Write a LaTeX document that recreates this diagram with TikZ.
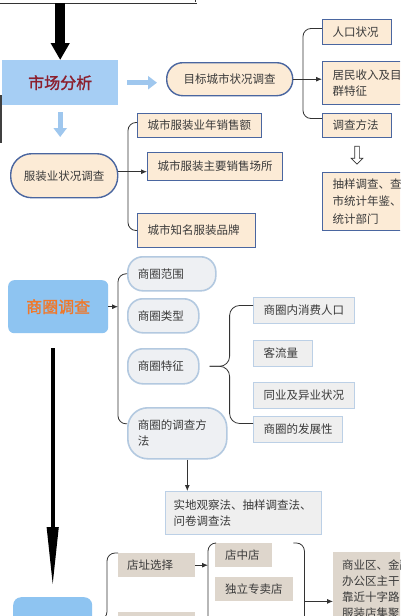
\documentclass[tikz,border=0pt]{standalone}
\usepackage{fontspec}
\newfontfamily\cjk{Noto Sans CJK SC}
\newfontfamily\cjkbold[FakeBold=1.6]{Noto Sans CJK SC}
\usetikzlibrary{arrows.meta,shapes.arrows}

\definecolor{mkblue}{HTML}{A6CEF4}
\definecolor{sqblue}{HTML}{8EC4F1}
\definecolor{mkred}{HTML}{8C1F2E}
\definecolor{sqorange}{HTML}{F0782A}
\definecolor{peach}{HTML}{FCEBD6}
\definecolor{navy}{HTML}{4A66A0}
\definecolor{pillgray}{HTML}{EEF0F3}
\definecolor{pillline}{HTML}{B3C9E0}
\definecolor{boxgray}{HTML}{EFEFEF}
\definecolor{boxline}{HTML}{BCD0E6}
\definecolor{tan}{HTML}{DED6CC}
\definecolor{arrowblue}{HTML}{9FC7EE}
\definecolor{linegray}{HTML}{333333}
\definecolor{txtgray}{HTML}{3A3A3A}

\tikzset{
  boxbase/.style={anchor=north west, inner xsep=10pt, inner ysep=0pt, align=left,
    text=txtgray, font=\cjk\fontsize{11.5}{16.5}\selectfont},
  peachbox/.style={boxbase, draw=navy, line width=1pt, fill=peach},
  peachpill/.style={boxbase, draw=navy, line width=1.4pt, fill=peach, rounded corners=16pt, align=center},
  graypill/.style={boxbase, draw=pillline, line width=1.6pt, fill=pillgray, rounded corners=15pt},
  graybox/.style={boxbase, draw=boxline, line width=1pt, fill=boxgray},
  tanbox/.style={boxbase, fill=tan},
  titlebox/.style={anchor=north west, inner sep=0pt, align=center, font=\cjkbold\fontsize{16}{16}\selectfont},
  bracket/.style={draw=linegray, line width=0.8pt, rounded corners=8pt},
  smallarrow/.style={draw=linegray, line width=0.8pt, -{Latex[length=6pt,width=5pt]}},
  lightarrow/.style={draw=arrowblue, line width=5pt, -{Triangle[length=9pt,width=13pt]}},
}

\begin{document}
\begin{tikzpicture}[x=1pt,y=-1pt]
\useasboundingbox (0,0) rectangle (400,616);
\fill[white] (0,0) rectangle (400,616);
\clip (0,0) rectangle (400,616);

% market analysis
\node[draw=black!80, double, double distance=1pt, line width=0.5pt, minimum width=201pt,
  minimum height=24pt, anchor=south west, inner sep=0pt] (topbox) at (-5,3) {};
\node[titlebox, fill=mkblue, text=mkred, minimum width=116pt, minimum height=45pt] (market) at (2,60) {市场分析};
\node[peachpill, text width=106pt, minimum height=33pt] (city) at (166,62) {目标城市状况调查};

\node[peachbox, text width=49pt, minimum height=25pt] (renkou) at (322,19) {人口状况};
\node[peachbox, text width=80pt, minimum height=43pt] (jumin) at (322,61) {居民收入及目\\群特征};
\node[peachbox, text width=49pt, minimum height=24pt] (method) at (322,113) {调查方法};
\node[single arrow, draw=linegray, line width=0.7pt, fill=white, shape border rotate=270,
  minimum height=18pt, inner sep=2pt, single arrow head extend=3.5pt] (hollow) at (357,154) {};
\node[peachbox, text width=80pt, minimum height=58pt, font=\cjk\fontsize{11.5}{17.5}\selectfont] (chouyang) at (322,172) {抽样调查、查\\市统计年鉴、\\统计部门};

\node[peachpill, rounded corners=21pt, text width=87pt, minimum height=44pt] (fuzhuang) at (10,153) {服装业状况调查};
\node[peachbox, text width=104pt, minimum height=24pt] (nianxiao) at (137,113) {城市服装业年销售额};
\node[peachbox, text width=115pt, minimum height=28pt] (zhuyao) at (147,152) {城市服装主要销售场所};
\node[peachbox, text width=98pt, minimum height=34pt] (zhiming) at (137,213) {城市知名服装品牌};

\draw[line width=1.5pt, black!75] (1,95) -- (1,143);

\draw[line width=10pt, -{Triangle[length=17pt,width=18pt]}] (topbox.south -| market.north) -- (market.north);
\draw[lightarrow, shorten <=9pt, shorten >=9pt] (market.east) -- (market.east -| city.west);
\draw[lightarrow, shorten <=7pt, shorten >=16pt] (market.south) -- (market.south |- fuzhuang.north);

\coordinate (citybr) at ([xshift=-19pt,yshift=3.5pt]renkou.west);
\draw[bracket] ([yshift=3.5pt]renkou.west) -- (citybr) |- ([yshift=7pt]method.west);
\draw[smallarrow] (city.east) -- (city.east -| jumin.west);

\coordinate (fzbr) at ([xshift=-9pt,yshift=3pt]nianxiao.west);
\draw[bracket] ([yshift=3pt]nianxiao.west) -- (fzbr) |- (zhiming.west);
\draw[smallarrow] ([yshift=4pt]fuzhuang.east) -- ([yshift=4pt]fuzhuang.east -| zhuyao.west);

% trade area survey
\node[titlebox, fill=sqblue, text=sqorange, rounded corners=6pt, minimum width=100pt, minimum height=53pt] (shangquan) at (8,280) {商圈调查};

\node[graypill, text width=68pt, minimum height=34pt] (fanwei) at (127,256) {商圈范围};
\node[graypill, text width=51pt, minimum height=34pt] (leixing) at (127,298) {商圈类型};
\node[graypill, text width=51pt, minimum height=35pt] (tezheng) at (127,348) {商圈特征};
\node[graypill, rounded corners=20pt, text width=79pt, minimum height=51pt] (diaocha) at (127,407) {商圈的调查方\\法};

\node[graybox, text width=81pt, minimum height=26pt] (xiaofei) at (253,297) {商圈内消费人口};
\node[graybox, text width=39pt, minimum height=26pt] (keliu) at (253,340) {客流量};
\node[graybox, text width=81pt, minimum height=26pt] (tongye) at (253,382) {同业及异业状况};
\node[graybox, text width=69pt, minimum height=26pt] (fazhan) at (253,416) {商圈的发展性};

\node[graybox, inner xsep=8pt, text width=140pt, minimum height=43pt] (fangfa) at (165,491) {实地观察法、抽样调查法、\\问卷调查法};

\coordinate (sqbr) at ([xshift=-9pt]fanwei.west);
\draw[bracket] (fanwei.west) -- (sqbr) |- ([yshift=9.5pt]diaocha.west);
\draw[smallarrow] (shangquan.east) -- (shangquan.east -| sqbr);

\coordinate (tzmid) at ([xshift=30pt]tezheng.east);
\coordinate (tztip) at ([xshift=10pt]tezheng.east);
\draw[bracket, rounded corners=10pt] ([yshift=5pt]xiaofei.west) -| (tzmid) -- (tztip);
\draw[bracket, rounded corners=10pt] ([yshift=6pt]fazhan.west) -| (tzmid) -- (tztip);

\draw[smallarrow] ([xshift=10pt]diaocha.south) -- ([xshift=10pt]diaocha.south |- fangfa.north);

% shop location
\node[titlebox, fill=sqblue, rounded corners=8pt, minimum width=79pt, minimum height=45pt] (shop) at (13,597) {};
\draw[line width=4pt, -{Triangle[length=60pt,width=11pt]}, shorten <=15pt, shorten >=10pt]
  (shop.north |- shangquan.south) -- (shop.north);

\node[tanbox, inner xsep=9pt, text width=59pt, minimum height=24pt] (dianzhi) at (118,553) {店址选择};
\node[tanbox, inner xsep=9pt, text width=59pt, minimum height=28pt] (dianzhi2) at (118,612) {};
\node[tanbox, text width=37pt, minimum height=24pt] (dianzhong) at (215,543) {店中店};
\node[tanbox, text width=58pt, minimum height=24pt] (duli) at (215,577) {独立专卖店};
\node[tanbox, inner xsep=9pt, text width=80pt, minimum height=74pt, font=\cjk\fontsize{11.5}{16}\selectfont] (shangye) at (333,552) {商业区、金融\\办公区主干\\靠近十字路\\服装店集聚};

\coordinate (dzbr) at ([xshift=-11pt]dianzhi.north west);
\draw[bracket] (dianzhi.north west) -- (dzbr) |- (shop.east);

\coordinate (zdbr) at ([xshift=-7pt]dianzhong.north west);
\draw[bracket] (dianzhong.north west) -- (zdbr) -- ++(0,90);
\draw[smallarrow] (dianzhi.east) -- (dianzhi.east -| zdbr);

\coordinate (dlbr) at ([xshift=11pt]duli.east |- dianzhong.north);
\draw[bracket] (duli.east |- dianzhong.north) -- (dlbr) -- ++(0,90);
\coordinate (dlout) at (dlbr |- duli.south);
\draw[smallarrow] (dlout) -- (dlout -| shangye.west);
\end{tikzpicture}
\end{document}
